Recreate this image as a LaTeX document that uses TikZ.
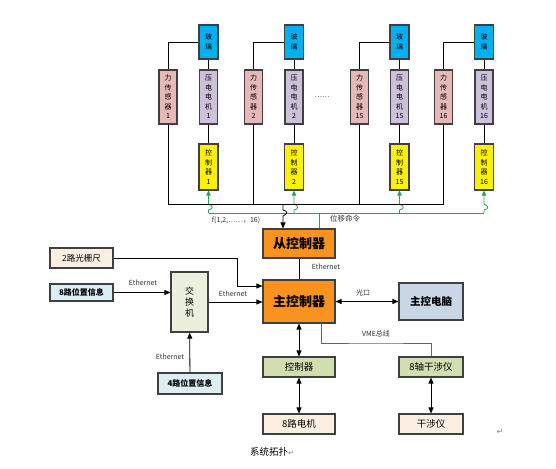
\documentclass[tikz,border=0pt]{standalone}
\usepackage{fontspec}
\setmainfont{Noto Sans CJK SC}
\newfontfamily\markfont{DejaVu Sans}
\usetikzlibrary{positioning,calc,arrows.meta}
\definecolor{orng}{HTML}{F7931E}
\definecolor{glass}{HTML}{00B0F0}
\definecolor{sens}{HTML}{E6B9B8}
\definecolor{motor}{HTML}{CCC0DA}
\definecolor{pcblue}{HTML}{C9D6E6}
\definecolor{olive}{HTML}{D2DDB0}
\definecolor{peach}{HTML}{FDEEE2}
\definecolor{infoblue}{HTML}{DAEEF3}
\definecolor{swgreen}{HTML}{EBF0DE}
\definecolor{busgreen}{HTML}{1FA84F}
\definecolor{edge}{HTML}{404040}

\tikzset{
  box/.style={rectangle,draw=edge,line width=1.1pt,inner sep=1pt,align=center},
  colbox/.style={box,minimum width=18pt,minimum height=54pt,font=\fontsize{7}{9.5}\selectfont},
  glassbox/.style={box,fill=glass,minimum width=19pt,minimum height=34pt,font=\fontsize{7}{9.5}\selectfont},
  ctbox/.style={box,fill=yellow,minimum width=19pt,minimum height=46pt,font=\fontsize{7}{9.5}\selectfont},
  bigbox/.style={box,fill=orng,minimum width=72pt,font=\fontsize{13}{15}\selectfont\bfseries},
  lowbox/.style={box,minimum width=72pt,minimum height=20pt,font=\fontsize{9.5}{11}\selectfont},
  pcbox/.style={box,minimum width=64pt,minimum height=20pt,font=\fontsize{9.5}{11}\selectfont},
  lbl/.style={font=\fontsize{7}{8}\selectfont,text=black!80,inner sep=1pt},
  conn/.style={draw=black,line width=0.8pt},
  arr/.style={conn,-{Triangle[length=6pt,width=5pt]}},
  darr/.style={conn,{Triangle[length=6pt,width=5pt]}-{Triangle[length=6pt,width=5pt]}},
  garr/.style={draw=busgreen,line width=0.8pt,-{Triangle[length=5pt,width=4.5pt]}},
}

\begin{document}
\begin{tikzpicture}[x=1pt,y=-1pt]
\useasboundingbox (0,0) rectangle (556,468);

% the four columns on top
\foreach \n/\sx/\mx/\lab in {a/168/208.5/1,b/253.5/294/2,c/359.5/399.5/15,d/443.5/484/16} {
  \node[glassbox] (gl\n) at (\mx,42) {玻\\璃};
  \node[colbox,fill=sens] (fs\n) at (\sx,97) {力\\传\\感\\器\\\lab};
  \node[colbox,fill=motor] (pm\n) at (\mx,97) {压\\电\\电\\机\\\lab};
  \node[ctbox] (ct\n) at (\mx,167) {控\\制\\器\\\lab};
  \draw[conn] (gl\n.west) -| (fs\n.north);
  \draw[conn] (gl\n) -- (pm\n);
  \draw[conn] (pm\n) -- (ct\n);
  \coordinate (bk\n) at (\sx,204);
  \coordinate (gr\n) at (\mx,213);
  \draw[conn] (fs\n.south) -- (bk\n);
  \draw[garr] (gr\n) -- ++(0,-3) .. controls ++(5,-1) and ++(5,2) .. ++(0,-6) -- (ct\n.south);
}
\node at (322,97) [font=\fontsize{7}{8}\selectfont] {……};

% buses
\draw[conn] (bka) -- (bkd);
\draw[draw=busgreen,line width=0.8pt] (gra) -- (grd);

% controllers
\node[bigbox,minimum height=29pt] (slave) at (299,243.5) {从控制器};
\node[bigbox,minimum height=43pt] (master) at (299,301.5) {主控制器};
\node[pcbox,fill=pcblue,minimum height=37pt,font=\fontsize{10.5}{12}\selectfont\bfseries] (pc) at (431,301.5) {主控电脑};
\node[lowbox,fill=olive] (mctl) at (299,367) {控制器};
\node[pcbox,fill=olive] (ifm8) at (431,367) {8轴干涉仪};
\node[lowbox,fill=peach] (mot8) at (299,424) {8路电机};
\node[pcbox,fill=peach] (ifm) at (431,424) {干涉仪};

\coordinate (drop) at (283,204);
\coordinate (cmd) at (319,213);
\draw[arr] (drop) -- ++(0,6) .. controls ++(5,1) and ++(5,-2) .. ++(0,6) -- (drop |- slave.north);
\draw[draw=busgreen,line width=0.8pt] (cmd) -- (cmd |- slave.north);
\node[lbl] at (236,220) {f(1,2,……，16)};
\node[lbl,font=\fontsize{7.5}{8}\selectfont] at (345,219) {位移命令};

\draw[conn] (slave) -- (master);
\node[lbl] at (326,267) {Ethernet};
\draw[darr] (master.east) -- (pc.west);
\node[lbl] at (363,293) {光口};
\draw[draw=black!60,line width=0.8pt] (master.south -| 321,0) |- (376,343) -| (ifm8.north);
\node[lbl] at (376,334) {VME总线};
\draw[darr] (master) -- (mctl);
\draw[darr] (mctl) -- (mot8);
\draw[darr] (ifm8) -- (ifm);

% left side
\node[box,fill=peach,minimum width=63pt,minimum height=20pt,font=\fontsize{8.5}{10}\selectfont] (grat) at (81.5,258) {2路光栅尺};
\node[box,fill=infoblue,minimum width=63pt,minimum height=17pt,font=\fontsize{8}{10}\selectfont\bfseries] (pos8) at (81.5,292.5) {8路位置信息};
\node[box,fill=swgreen,minimum width=37pt,minimum height=60pt,font=\fontsize{9}{11}\selectfont] (sw) at (189.5,302) {交\\换\\机};
\node[box,fill=infoblue,minimum width=64pt,minimum height=21pt,font=\fontsize{8}{10}\selectfont\bfseries] (pos4) at (190,383.5) {4路位置信息};

\draw[arr] (grat.east) -| (237,286) -- (master.west |- 0,286);
\draw[arr] (pos8.east) -- (sw.west |- pos8.east);
\node[lbl] at (143,283) {Ethernet};
\draw[arr] (sw.east) -- (master.west |- sw.east);
\node[lbl] at (233,294) {Ethernet};
\draw[arr] (pos4) -- (sw);
\node[lbl] at (170,357) {Ethernet};

% caption
\node (cap) at (272,452) [font=\fontsize{9.5}{11}\selectfont] {系统拓扑{\markfont\color{black!50}\fontsize{7}{8}\selectfont ↵}};
\node (pmark) at (500,432) [font=\markfont\fontsize{8}{9}\selectfont,text=black!50] {↵};
\end{tikzpicture}
\end{document}
